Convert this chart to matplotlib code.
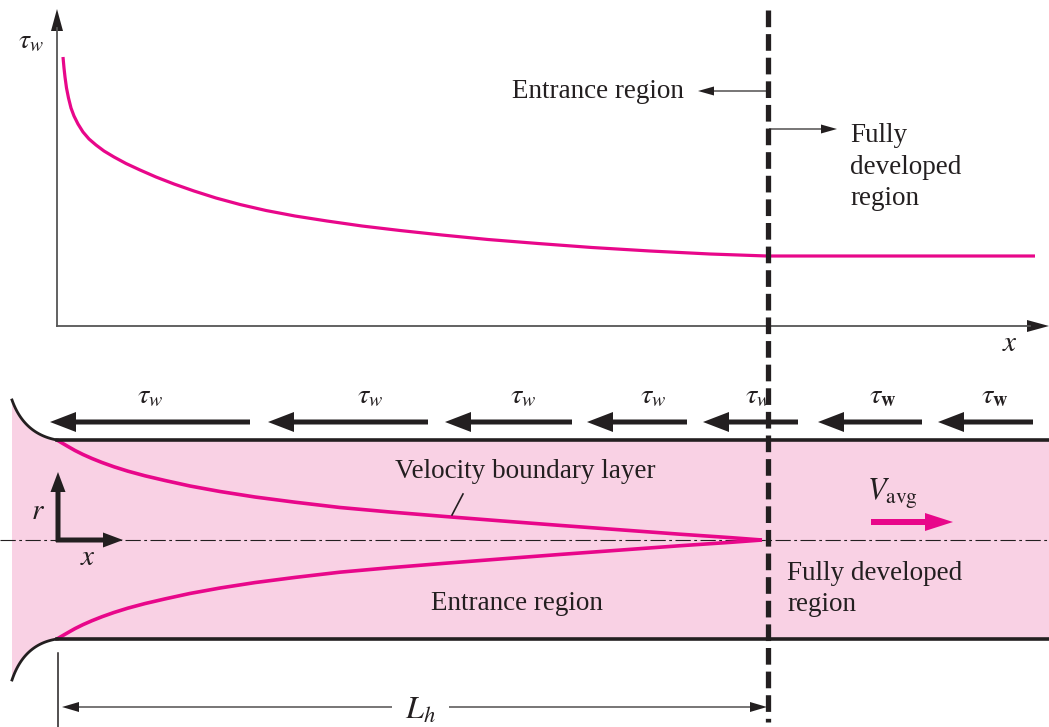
import numpy as np
import matplotlib
matplotlib.use('Agg')
import matplotlib.pyplot as plt
from matplotlib.patches import Polygon, FancyArrow

plt.rcParams['mathtext.fontset'] = 'stix'
plt.rcParams['font.family'] = ['Liberation Serif', 'DejaVu Serif']
plt.rcParams['lines.scale_dashes'] = False

# ---------------- data ----------------
# wall shear stress along the pipe (x position, tau_w height above the x axis)
tau_x = [63, 64, 65, 66.5, 68.5, 71, 74, 78, 83, 89, 96, 104, 114, 126, 140,
         156, 174, 194, 216, 240, 266, 295, 327, 362, 400, 442, 488, 538, 592,
         650, 710, 767, 1035]
tau_w = [269, 258, 249, 238, 228, 218, 210, 202, 194, 187, 181, 175, 169,
         162.5, 156, 149, 142, 135, 128, 121.5, 115.5, 110, 105, 100, 95.5, 91,
         86.5, 82.5, 78.5, 75, 72, 70, 70]
# velocity boundary layer thickness along the pipe
bl_x = [57, 62, 68, 75, 83, 92, 102, 114, 128, 145, 165, 190, 220, 255, 295,
        340, 390, 445, 500, 560, 620, 680, 730, 762]
bl_delta = [100, 97, 93.5, 89.5, 85.5, 81.5, 77.5, 73.2, 68.8, 64.2, 59.5, 54,
            48.5, 43, 37.8, 32.5, 28, 23.5, 19.2, 14.6, 10.2, 5.8, 2.4, 0]
# shear stress arrows on the wall (start, end) and label positions
shear_arrow_start = [250, 428, 572, 687, 798, 922, 1033]
shear_arrow_end = [50, 268, 445, 587, 703, 818, 938]
shear_label_x = [150, 370, 523, 653, 758, 883, 995]
shear_label_bold = [False, False, False, False, False, True, True]

W, H = 1049, 727
TXT = '#231f20'
MAG = '#e8078a'
PINK = '#f9d1e4'
AXC = '#555555'

fig = plt.figure(figsize=(W / 100, H / 100), dpi=100)
ax = fig.add_axes([0, 0, 1, 1])
ax.set_xlim(0, W)
ax.set_ylim(H, 0)
ax.axis('off')

# ---------------- top plot ----------------
y0 = 326
x0 = 57
ax.plot([x0, x0], [y0, 28], color=AXC, lw=1.3)
ax.add_patch(Polygon([[x0, 9], [x0 - 6, 31], [x0 + 6, 31]], closed=True, color=TXT, lw=0))
ax.plot([x0, 1030], [y0, y0], color=AXC, lw=1.3)
ax.add_patch(Polygon([[1049, y0], [1027, y0 - 6], [1027, y0 + 6]], closed=True, color=TXT, lw=0))
ax.text(31, 42, r'$\tau_w$', fontsize=20, color=TXT, ha='center', va='center')
ax.text(1010, 344, r'$x$', fontsize=21, color=TXT, ha='center', va='center')

ax.plot(tau_x, y0 - np.array(tau_w), color=MAG, lw=2.3, solid_capstyle='butt',
        solid_joinstyle='round', zorder=3)

# region markers
ax.text(598, 91, 'Entrance region', fontsize=19.5, color=TXT, ha='center', va='center')
ax.add_patch(FancyArrow(768, 91, -70, 0, width=1.2, head_width=9, head_length=16,
                        length_includes_head=True, color=TXT, lw=0))
ax.add_patch(FancyArrow(769, 129, 68, 0, width=1.2, head_width=9, head_length=16,
                        length_includes_head=True, color=TXT, lw=0))
ax.text(850, 167, 'Fully\ndeveloped\nregion', fontsize=19.5, color=TXT, ha='left',
        va='center', linespacing=1.33)

# ---------------- pipe ----------------
t = np.linspace(0, 1, 40)
p0, p1, p2 = np.array([12, 400]), np.array([24, 434]), np.array([57, 440])
top_inlet = ((1 - t) ** 2)[:, None] * p0 + (2 * (1 - t) * t)[:, None] * p1 + (t ** 2)[:, None] * p2
q0, q1, q2 = np.array([12, 680]), np.array([24, 644]), np.array([57, 639])
bot_inlet = ((1 - t) ** 2)[:, None] * q0 + (2 * (1 - t) * t)[:, None] * q1 + (t ** 2)[:, None] * q2

poly = np.vstack([top_inlet, [[W, 440], [W, 639]], bot_inlet[::-1]])
ax.add_patch(Polygon(poly, closed=True, facecolor=PINK, edgecolor='none', zorder=1))

ax.plot(top_inlet[:, 0], top_inlet[:, 1], color=TXT, lw=2.0, zorder=4)
ax.plot(bot_inlet[:, 0], bot_inlet[:, 1], color=TXT, lw=2.0, zorder=4)
ax.plot([57, W], [440, 440], color=TXT, lw=2.6, zorder=4)
ax.plot([57, W], [639, 639], color=TXT, lw=2.6, zorder=4)

# centerline
ax.plot([0, W], [540, 540], color=TXT, lw=0.8, dashes=(11, 2.5, 2, 2.5), zorder=2)

# boundary layer
bx = np.array(bl_x)
bd = np.array(bl_delta)
ax.plot(bx, 540 - bd, color=MAG, lw=2.6, zorder=3, solid_capstyle='butt', solid_joinstyle='round')
ax.plot(bx, 540 + bd * 0.99, color=MAG, lw=2.6, zorder=3, solid_capstyle='butt', solid_joinstyle='round')

ax.text(525, 472, 'Velocity boundary layer', fontsize=19.5, color=TXT, ha='center', va='center', zorder=5)
ax.plot([463, 452], [494, 515], color=TXT, lw=1.2, zorder=5)
ax.text(517, 604, 'Entrance region', fontsize=19.5, color=TXT, ha='center', va='center', zorder=5)
ax.text(787, 589, 'Fully developed\nregion', fontsize=19.5, color=TXT, ha='left',
        va='center', linespacing=1.32, zorder=5)

# r-x coordinate arrows
ax.add_patch(FancyArrow(58, 542, 0, -70, width=5, head_width=15, head_length=20,
                        length_includes_head=True, color=TXT, lw=0, zorder=5))
ax.add_patch(FancyArrow(56, 540, 67, 0, width=5, head_width=15, head_length=20,
                        length_includes_head=True, color=TXT, lw=0, zorder=5))
ax.text(38, 512, r'$r$', fontsize=21, color=TXT, ha='center', va='center', zorder=5)
ax.text(88, 558, r'$x$', fontsize=21, color=TXT, ha='center', va='center', zorder=5)

# V_avg
ax.text(867, 494, r'$V_{\mathrm{avg}}$', fontsize=22, color=TXT, ha='left', va='center', zorder=5)
ax.add_patch(FancyArrow(871, 522, 82, 0, width=6, head_width=18, head_length=28,
                        length_includes_head=True, color=MAG, lw=0, zorder=5))

# shear stress arrows
for xs, xe, lx, bold in zip(shear_arrow_start, shear_arrow_end, shear_label_x, shear_label_bold):
    ax.add_patch(FancyArrow(xs, 422, xe - xs, 0, width=5, head_width=20, head_length=26,
                            length_includes_head=True, color=TXT, lw=0, zorder=5))
    lab = r'$\tau_{\mathbf{w}}$' if bold else r'$\tau_w$'
    ax.text(lx, 397, lab, fontsize=20.5, color=TXT, ha='center', va='center', zorder=5)

# L_h dimension
ax.plot([58, 58], [653, H], color=TXT, lw=1.1)
ax.add_patch(FancyArrow(392, 707, -330, 0, width=1.2, head_width=10, head_length=17,
                        length_includes_head=True, color=TXT, lw=0))
ax.add_patch(FancyArrow(449, 707, 318, 0, width=1.2, head_width=10, head_length=17,
                        length_includes_head=True, color=TXT, lw=0))
ax.text(420, 711, r'$L_h$', fontsize=23, color=TXT, ha='center', va='center')

# dashed boundary between regions
ax.plot([768, 768], [10, 722], color=TXT, lw=3.8, dashes=(12, 5), zorder=6)

fig.savefig('out.png', dpi=100)
